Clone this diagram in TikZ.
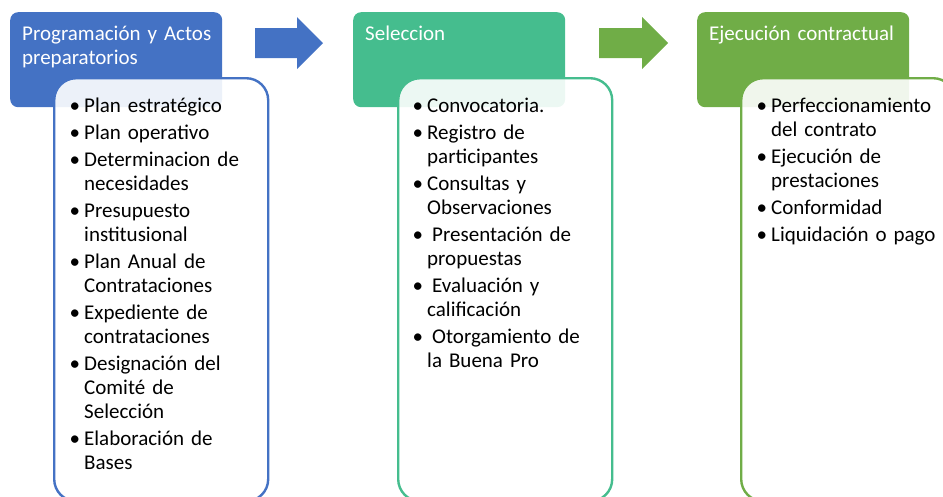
\documentclass[tikz,border=0pt]{standalone}
\usepackage{fontspec}
\setmainfont{Carlito}
\usepackage{tikz}

\definecolor{stageblue}{HTML}{4472C4}
\definecolor{stageteal}{HTML}{45BD8E}
\definecolor{stagegreen}{HTML}{70AD47}

% one bullet line of a stage list (optional extra space after the bullet)
\newcommand{\stageitem}[2][0pt]{\noindent\llap{•\kern4pt}\hspace{#1}#2\par\vspace{3pt}}

\begin{document}
\begin{tikzpicture}[
  x=1pt,
  y=-1pt, % <-- pixel grid, y grows downwards
  every node/.style={font=\fontsize{21}{24}\selectfont},
  header/.style={rectangle, rounded corners=8pt, anchor=north west, inner sep=0pt,
    minimum width=212pt, minimum height=95pt},
  card/.style={rectangle, rounded corners=22pt, anchor=north west, inner sep=0pt,
    fill=white, fill opacity=0.9, line width=2.4pt,
    minimum width=214pt, minimum height=423pt},
  headtext/.style={text=white, text width=200pt, align=left, anchor=base west, inner sep=0pt},
  listtext/.style={text width=200pt, align=left, anchor=base west, inner sep=0pt}
]

\useasboundingbox (0,0) rectangle (943,496);
\clip (0,0) rectangle (943,496);

% Stage headers
\node[header, fill=stageblue]  (hdrA) at (10,12) {};
\node[header, fill=stageteal]  (hdrB) at (353,12) {};
\node[header, fill=stagegreen] (hdrC) at (697,12) {};

\node[headtext] (titleA) at (22,40) {Programación y Actos\newline preparatorios};
\node[headtext] (titleB) at (365,40) {Seleccion};
\node[headtext] (titleC) at (709,40) {Ejecución contractual};

% Block arrows between the headers
\fill[stageblue]  (255,28) -- (297,28) -- (297,17) -- (323,43) -- (297,69) -- (297,58) -- (255,58) -- cycle;
\fill[stagegreen] (599,28) -- (642,28) -- (642,17) -- (668,43) -- (642,69) -- (642,58) -- (599,58) -- cycle;

% --- Cards ---
\node[card, draw=stageblue]  (cardA) at (53,77) {};
\node[card, draw=stageteal]  (cardB) at (397,77) {};
\node[card, draw=stagegreen] (cardC) at (740,77) {};

% --- Stage 1: programming ---
\node[listtext] (listA) at (84,112) {%
  \stageitem{Plan estratégico}
  \stageitem{Plan operativo}
  \stageitem{Determinacion de\newline necesidades}
  \stageitem{Presupuesto\newline institusional}
  \stageitem{Plan Anual de\newline Contrataciones}
  \stageitem{Expediente de\newline contrataciones}
  \stageitem{Designación del\newline Comité de\newline Selección}
  \stageitem{Elaboración de\newline Bases}};

% --- Stage 2: selection ---
\node[listtext] (listB) at (427,112) {%
  \stageitem{Convocatoria.}
  \stageitem{Registro de\newline participantes}
  \stageitem{Consultas y\newline Observaciones}
  \stageitem[5pt]{Presentación de\newline propuestas}
  \stageitem[5pt]{Evaluación y\newline calificación}
  \stageitem[5pt]{Otorgamiento de\newline la Buena Pro}};

% --- Stage 3: execution ---
\node[listtext] (listC) at (771,112) {%
  \stageitem{Perfeccionamiento\newline del contrato}
  \stageitem{Ejecución de\newline prestaciones}
  \stageitem{Conformidad}
  \stageitem{Liquidación o pago}};

\end{tikzpicture}
\end{document}
